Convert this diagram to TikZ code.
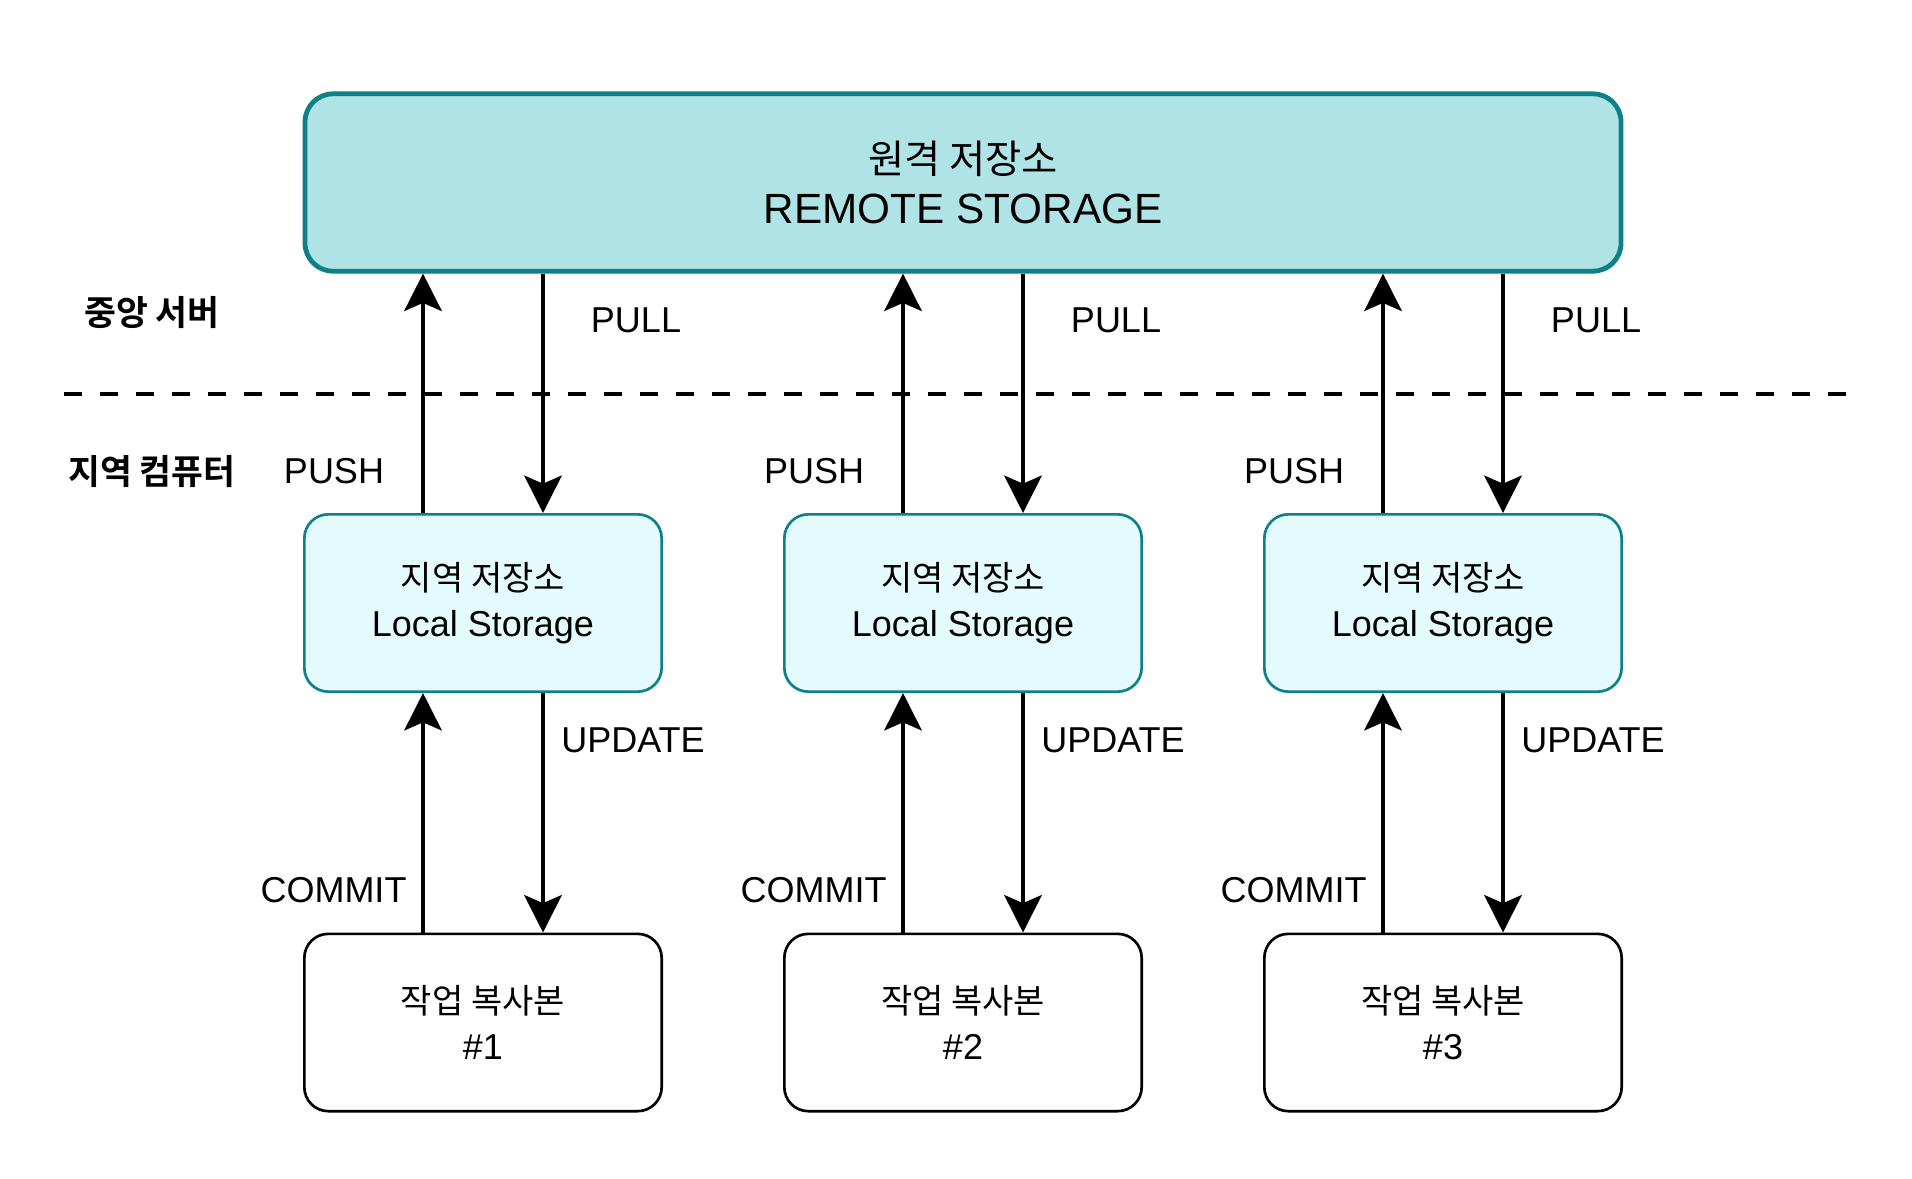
\documentclass[tikz,border=0pt]{standalone}
\usepackage{fontspec}
\setmainfont{Liberation Sans}
\newfontfamily\kr{Noto Sans CJK KR}[BoldFont={Noto Sans CJK KR Bold}]
\usepackage{xcolor}
\usetikzlibrary{positioning,arrows.meta}
\definecolor{remotefill}{HTML}{B0E3E6}
\definecolor{remoteline}{HTML}{0E8088}
\definecolor{localfill}{HTML}{E4FAFD}

\begin{document}
\begin{tikzpicture}[x=0.75pt, y=-0.75pt,
    remotebox/.style={draw=remoteline, fill=remotefill, line width=3.6pt, rounded corners=21pt,
        minimum width=987pt, minimum height=133pt, align=center, inner sep=0pt,
        font=\fontsize{31.7}{38}\selectfont},
    localbox/.style={draw=remoteline, fill=localfill, line width=2pt, rounded corners=18pt,
        minimum width=268pt, minimum height=133pt, align=center, inner sep=0pt,
        font=\fontsize{27}{34.5}\selectfont},
    workbox/.style={localbox, draw=black, fill=white},
    flow/.style={line width=3.5pt, -{Stealth[length=28pt, width=28pt, inset=6pt]}},
    lbl/.style={font=\fontsize{27}{30}\selectfont, inner sep=0pt},
    side/.style={font=\kr\bfseries\fontsize{26}{30}\selectfont, inner sep=0pt}]

    \path [use as bounding box, fill=white] (0,0) rectangle (1912,1178);

    \node [remotebox] (remote) at (963,182.5) {{\kr\fontsize{29.5}{38}\selectfont 원격 저장소}\\REMOTE STORAGE};

    % server / local divider
    \coordinate (divL) at (64,394);
    \coordinate (divR) at (1848,394);
    \draw [line width=3.6pt, dash pattern=on 13.5pt off 13.5pt] (divL) -- (divR);
    \node [side] (server) at (152,313) {중앙 서버};
    \node [side] (client) at (152,472) {지역 컴퓨터};

    \foreach \i/\x in {1/483, 2/963, 3/1443} {
        \node [localbox] (loc\i) at (\x,603) {{\kr\fontsize{25.5}{34.5}\selectfont 지역 저장소}\\Local Storage};
        \node [workbox] (work\i) at (\x,1022.5) {{\kr\fontsize{25.5}{34.5}\selectfont 작업 복사본}\\\#\i};

        \draw [flow] ([xshift=-45pt]loc\i.north) -- ([xshift=-45pt]loc\i.north |- remote.south);
        \draw [flow] ([xshift=45pt]loc\i.north |- remote.south) -- ([xshift=45pt]loc\i.north);
        \draw [flow] ([xshift=-45pt]work\i.north) -- ([xshift=-45pt]loc\i.south);
        \draw [flow] ([xshift=45pt]loc\i.south) -- ([xshift=45pt]work\i.north);

        \node [lbl] (push\i) at (\x-149,471) {PUSH};
        \node [lbl] (pull\i) at (\x+153,320) {PULL};
        \node [lbl] (upd\i) at (\x+150,740) {UPDATE};
        \node [lbl] (com\i) at (\x-149.5,890) {COMMIT};
    }
\end{tikzpicture}
\end{document}
